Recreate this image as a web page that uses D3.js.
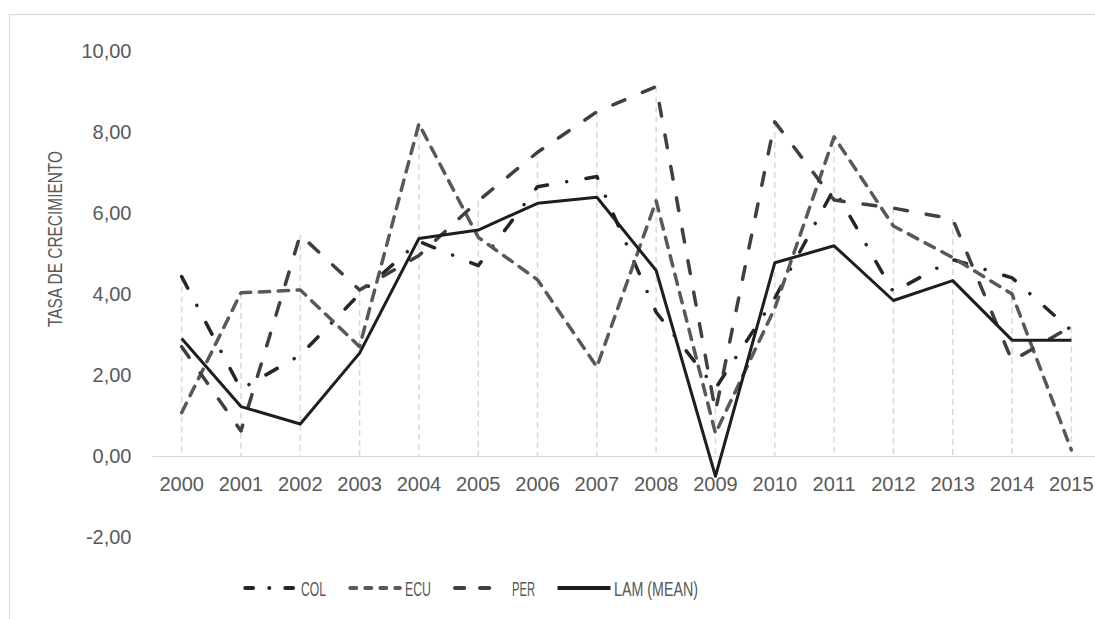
<!DOCTYPE html>
<html>
<head>
<meta charset="utf-8">
<script src="https://cdn.jsdelivr.net/npm/d3@7/dist/d3.min.js"></script>
<style>
  html, body { margin: 0; padding: 0; background: #fff; }
  svg { display: block; }
  text { font-family: "Liberation Sans", Arial, sans-serif; fill: #595959; }
</style>
</head>
<body>
<svg id="chart" width="1095" height="619"></svg>
<script>
const years = ["2000","2001","2002","2003","2004","2005","2006","2007","2008","2009","2010","2011","2012","2013","2014","2015"];
const colValues = [4.43, 1.65, 2.49, 4.00, 5.30, 4.70, 6.65, 6.90, 3.55, 1.67, 3.90, 6.60, 4.05, 4.85, 4.40, 3.10];
const ecuValues = [1.07, 4.03, 4.10, 2.70, 8.20, 5.40, 4.35, 2.20, 6.30, 0.56, 3.65, 7.88, 5.68, 4.90, 4.00, 0.15];
const perValues = [2.70, 0.62, 5.46, 4.10, 4.95, 6.30, 7.50, 8.50, 9.12, 1.10, 8.25, 6.32, 6.12, 5.85, 2.35, 3.20];
const lamValues = [2.90, 1.22, 0.79, 2.54, 5.37, 5.58, 6.24, 6.39, 4.58, -0.50, 4.77, 5.19, 3.84, 4.33, 2.86, 2.86];
const seriesNames = ["COL", "ECU", "PER", "LAM (MEAN)"];
const yTicks = [-2, 0, 2, 4, 6, 8, 10];
const yTitle = "TASA DE CRECIMIENTO";

const series = [
  {name: seriesNames[0], values: colValues, color: "#262626", width: 3.5, dash: "13,19.5,0.01,19.5", legendDash: "7.7,16.3,0.01,16", legendText: 25},
  {name: seriesNames[1], values: ecuValues, color: "#595959", width: 3.5, dash: "10.5,8.5", legendDash: "6,9", legendText: 26},
  {name: seriesNames[2], values: perValues, color: "#404040", width: 3.5, dash: "12.9,19.1", legendDash: "9.3,15.7", legendText: 23},
  {name: seriesNames[3], values: lamValues, color: "#1e1e1e", width: 3, dash: null, legendDash: null, legendText: 84}
];

const svg = d3.select("#chart");

// chart border (extends past right/bottom edge)
svg.append("rect").attr("x", 9.5).attr("y", 14.5).attr("width", 1200).attr("height", 700)
  .attr("fill", "none").attr("stroke", "#d9d9d9").attr("stroke-width", 1.2);

const x = d3.scaleBand().domain(years).range([152, 1101]).paddingInner(0).paddingOuter(0);
const y = d3.scaleLinear().domain([-2, 10]).range([537, 51]);
const cx = d => x(d) + x.bandwidth() / 2;

// drop lines
const maxes = years.map((yr, i) => d3.max(series, s => s.values[i]));
svg.append("g").selectAll("line").data(years).join("line")
  .attr("x1", d => cx(d)).attr("x2", d => cx(d))
  .attr("y1", (d, i) => y(maxes[i])).attr("y2", y(0))
  .attr("stroke", "#d9d9d9").attr("stroke-width", 1.5).attr("stroke-dasharray", "6,4");

// x axis line at zero
const xAxis = d3.axisBottom(x).tickSize(0).tickPadding(0);
const gx = svg.append("g").attr("transform", `translate(0,${y(0)})`).call(xAxis);
gx.select(".domain").attr("stroke", "#d9d9d9").attr("stroke-width", 1.2);
gx.selectAll("text").attr("font-size", 20).attr("fill", "#595959").attr("dy", "1.75em")
  .attr("font-family", "Liberation Sans, Arial, sans-serif");

// y axis labels (no line)
const fmt = v => d3.format(".2f")(v).replace(".", ",").replace("−", "-");
const yAxis = d3.axisLeft(y).tickValues(yTicks).tickSize(0).tickPadding(0).tickFormat(fmt);
const gy = svg.append("g").attr("transform", "translate(131.5,0)").call(yAxis);
gy.select(".domain").remove();
gy.selectAll("text").attr("font-size", 20).attr("fill", "#595959")
  .attr("font-family", "Liberation Sans, Arial, sans-serif");

// y title
svg.append("text").attr("transform", "translate(61.5,239) rotate(-90)")
  .attr("text-anchor", "middle").attr("font-size", 20.5)
  .attr("textLength", 176).attr("lengthAdjust", "spacingAndGlyphs")
  .text(yTitle);

// lines
const line = d3.line().x((d, i) => cx(years[i])).y(d => y(d));
svg.append("g").selectAll("path").data(series).join("path")
  .attr("d", s => line(s.values))
  .attr("fill", "none")
  .attr("stroke", s => s.color)
  .attr("stroke-width", s => s.width)
  .attr("stroke-linecap", s => s.dash ? "round" : "butt")
  .attr("stroke-linejoin", "round")
  .attr("stroke-dasharray", s => s.dash);

// legend
const legendX = [245.3, 350.3, 455, 557.5];
const legendY = 588;
const lg = svg.append("g").selectAll("g").data(series).join("g")
  .attr("transform", (s, i) => `translate(${legendX[i]},${legendY})`);
lg.append("line")
  .attr("x1", 0).attr("x2", (s) => s.dash ? 49.5 : 53).attr("y1", 0).attr("y2", 0)
  .attr("stroke", s => s.color).attr("stroke-width", 4)
  .attr("stroke-linecap", s => s.dash ? "round" : "butt")
  .attr("stroke-dasharray", s => s.legendDash);
lg.append("text")
  .attr("x", (s, i) => [55.7, 54.7, 57, 56.5][i])
  .attr("y", 0).attr("dy", "0.37em").attr("font-size", 20.5)
  .attr("textLength", s => s.legendText).attr("lengthAdjust", "spacingAndGlyphs")
  .text(s => s.name);
</script>
</body>
</html>
